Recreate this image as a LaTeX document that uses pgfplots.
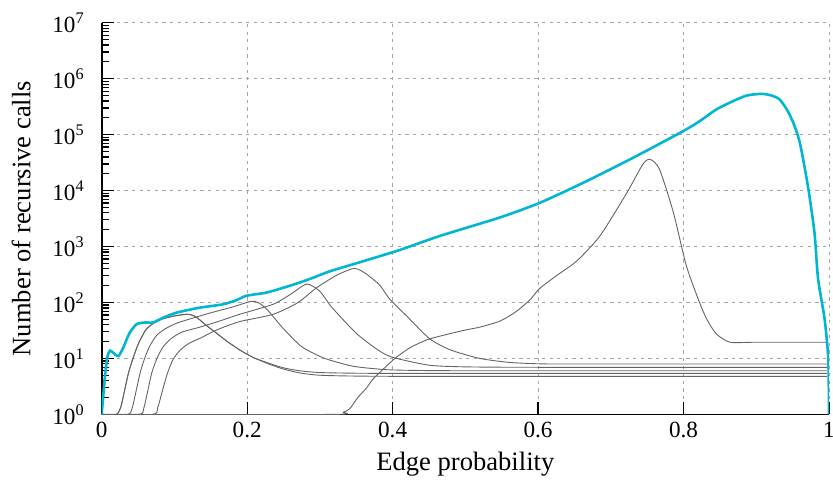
\documentclass[border=0pt]{standalone}
\usepackage{fontspec}
\setmainfont{Liberation Serif}
\usepackage{pgfplots}
\pgfplotsset{compat=1.18}
\usetikzlibrary{calc}
\definecolor{curvecyan}{RGB}{0,182,210}
\definecolor{curvegray}{RGB}{100,100,100}

\begin{document}
\begin{tikzpicture}
\begin{semilogyaxis}[
  name=ax,
  width=364pt, height=196pt, scale only axis,
  xmin=0, xmax=1, ymin=1, ymax=1e7,
  axis x line*=bottom, axis y line*=left,
  axis line style={line width=0.8pt},
  xtick={0,0.2,0.4,0.6,0.8,1},
  xticklabels={0,0.2,0.4,0.6,0.8,1},
  ytick={1,10,100,1000,10000,100000,1000000,10000000},
  yticklabels={10\textsuperscript{0},10\textsuperscript{1},10\textsuperscript{2},10\textsuperscript{3},10\textsuperscript{4},10\textsuperscript{5},10\textsuperscript{6},10\textsuperscript{7}},
  tick align=inside,
  major tick length=6pt, minor tick length=3.5pt,
  tick style={black, line width=0.6pt},
  xmajorgrids, ymajorgrids,
  grid style={gray!70, line width=0.4pt, dash pattern=on 1.6pt off 2.2pt},
  tick label style={font=\fontsize{11.6}{13}\selectfont},
  yticklabel style={xshift=-5pt},
  xticklabel style={yshift=-0.5pt},
  label style={font=\fontsize{13.3}{15}\selectfont},
  xlabel={Edge probability},
  ylabel={Number of recursive calls},
  ylabel style={yshift=4pt},
  clip=true,
]
% gray curves
\addplot[curvegray, line width=0.45pt, smooth, tension=0.4] coordinates {
(0,1)(0.02,1)(0.026,1.318)(0.031,2.512)(0.037,5.623)(0.043,10)(0.05,17.78)(0.06,31.62)(0.07,41.69)(0.082,50.12)(0.1,57.54)(0.119,61.66)(0.13,54.95)(0.142,40.74)(0.158,28.18)(0.174,19.50)(0.19,14.13)(0.208,10.47)(0.23,7.943)(0.25,6.457)(0.273,5.495)(0.3,5.012)(0.35,4.842)(0.45,4.786)(0.997,4.786)};
\addplot[curvegray, line width=0.45pt, smooth, tension=0.4] coordinates {
(0,1)(0.02,1)(0.026,1.318)(0.031,2.512)(0.037,5.623)(0.043,10)(0.05,17.78)(0.06,31.62)(0.07,41.69)(0.082,50.12)(0.1,57.54)(0.119,61.66)(0.13,54.95)(0.142,40.74)(0.158,28.18)(0.174,19.50)(0.19,14.13)(0.208,10.47)(0.23,8.2)(0.25,6.8)(0.273,6.0)(0.3,5.6)(0.35,5.45)(0.45,5.4)(0.997,5.4)};
\addplot[curvegray, line width=0.45pt, smooth, tension=0.4] coordinates {
(0,1)(0.036,1)(0.042,1.318)(0.047,2.512)(0.053,5.623)(0.059,10)(0.066,16.60)(0.076,26.30)(0.09,35.48)(0.105,43.65)(0.13,54.95)(0.151,66.07)(0.18,83.18)(0.205,104.7)(0.215,100)(0.227,75.86)(0.25,33.88)(0.273,16.98)(0.29,12.59)(0.309,9.772)(0.346,7.244)(0.392,6.3)(0.45,6.07)(0.55,6.03)(0.997,6.03)};
\addplot[curvegray, line width=0.45pt, smooth, tension=0.4] coordinates {
(0,1)(0.052,1)(0.058,1.318)(0.063,2.512)(0.069,5.623)(0.076,10)(0.084,15.85)(0.095,22.39)(0.11,29.51)(0.135,36.31)(0.16,45.71)(0.19,61.66)(0.236,93.33)(0.26,141.3)(0.282,213.8)(0.3,158.5)(0.316,83.18)(0.35,28.18)(0.38,14.13)(0.40,10.47)(0.45,7.586)(0.5,7.079)(0.6,6.95)(0.997,6.95)};
\addplot[curvegray, line width=0.45pt, smooth, tension=0.4] coordinates {
(0,1)(0.07,1)(0.077,1.318)(0.083,2.512)(0.09,5.248)(0.098,9.55)(0.108,14.13)(0.12,18.62)(0.135,22.91)(0.16,33.11)(0.19,45.71)(0.236,61.66)(0.27,100)(0.296,186.2)(0.325,316.2)(0.348,407.4)(0.365,316.2)(0.383,199.5)(0.396,114.8)(0.42,56.23)(0.451,22.39)(0.48,14.13)(0.52,10)(0.56,8.511)(0.6,8.035)(0.65,7.96)(0.997,7.96)};
\addplot[curvegray, line width=0.45pt, smooth, tension=0.4] coordinates {
(0,1)(0.318,1)(0.332,1.096)(0.341,1.259)(0.352,1.995)(0.364,2.951)(0.373,4.266)(0.392,7.413)(0.405,10.47)(0.425,15.85)(0.451,22.39)(0.497,31.62)(0.52,36.31)(0.548,46.77)(0.570,69.18)(0.589,112.2)(0.602,177.8)(0.625,300)(0.653,549.5)(0.685,1549)(0.722,9120)(0.744,29510)(0.754,36310)(0.767,23990)(0.786,4074)(0.804,446.7)(0.822,100)(0.832,50.12)(0.845,27.54)(0.864,19.50)(0.9,19.5)(0.997,19.5)};
% maximum curve
\addplot[curvecyan, line width=1.3pt, smooth, tension=0.4] coordinates {
(0,1)(0.002,2.04)(0.005,5.6)(0.008,11)(0.0114,13.8)(0.016,12.6)(0.023,11)(0.03,16)(0.038,28)(0.048,41)(0.06,44)(0.071,44)(0.085,54)(0.103,66)(0.12,74)(0.135,81)(0.167,93)(0.185,110)(0.199,132)(0.227,151)(0.259,200)(0.286,263)(0.314,363)(0.355,525)(0.41,871)(0.465,1549)(0.5475,3311)(0.602,6026)(0.662,13800)(0.731,38900)(0.799,114800)(0.822,173800)(0.845,281800)(0.868,398000)(0.887,501200)(0.907,537000)(0.921,501200)(0.932,426600)(0.942,281800)(0.951,162200)(0.96,70800)(0.971,12000)(0.98,1780)(0.985,263)(0.994,50)(0.999,9.8)(1,1)};
\end{semilogyaxis}
\pgfresetboundingbox
\path[use as bounding box] ($(ax.south west)+(-50.9pt,-36.2pt)$) rectangle ($(ax.north east)+(2pt,11.4pt)$);
\end{tikzpicture}
\end{document}
